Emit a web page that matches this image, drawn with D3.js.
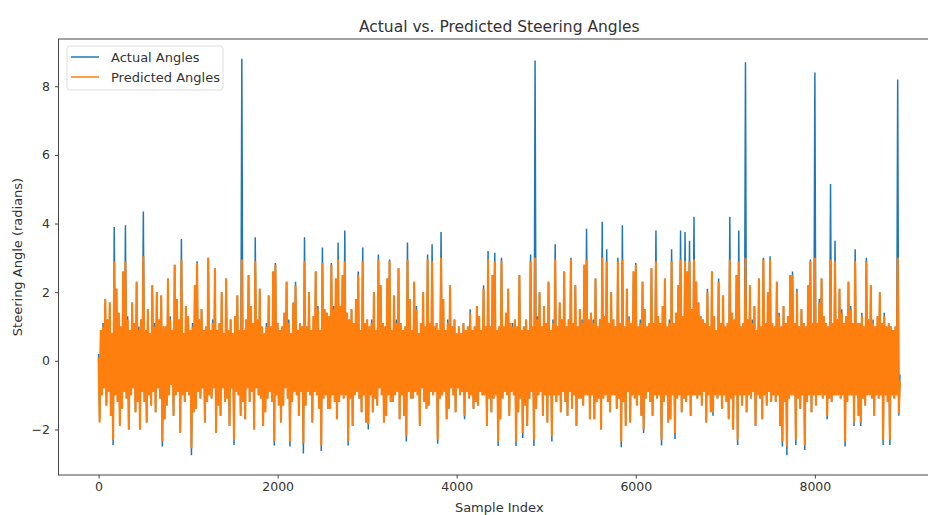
<!DOCTYPE html>
<html>
<head>
<meta charset="utf-8">
<script src="https://cdn.jsdelivr.net/npm/d3@7"></script>
<style>
  body { margin: 0; background: #fff; }
  text { font-family: "DejaVu Sans", sans-serif; fill: #333; }
</style>
</head>
<body>
<div id="chart"></div>
<script>
// one plotted sample every 12.5 indices (0 .. 8950)
const sampleStep = 12.5;

const actualAngles = [
  0.2,-1.7,0.9,-1.0,1.1,-0.8,1.8,-1.3,1.2,-0.9,1.7,-1.6,0.8,-2.45,3.9,-1.0,2.1,-1.2,1.4,-1.9,
  1.0,-1.4,2.6,-0.9,3.95,-1.1,1.3,-2.0,0.9,-1.0,1.7,-0.8,1.1,-1.5,2.3,-1.2,1.0,-2.0,1.2,-0.9,
  4.35,-1.2,0.9,-1.8,1.5,-1.0,0.8,-1.3,2.2,-0.9,1.1,-1.5,2.0,-0.8,1.2,-1.1,1.9,-2.5,1.0,-1.7,
  1.0,-1.3,2.4,-1.0,1.3,-0.7,0.9,-1.6,2.8,-1.0,1.8,-0.9,1.2,-2.1,3.55,-1.0,0.8,-1.2,1.6,-0.9,
  1.3,-1.0,0.9,-2.75,1.1,-1.5,2.2,-1.4,2.9,-0.9,1.2,-1.1,1.5,-0.8,0.9,-1.8,1.0,-1.2,3.0,-1.0,
  0.9,-1.1,1.2,-0.8,2.7,-2.1,0.9,-1.3,1.1,-1.6,2.0,-0.8,0.8,-1.2,2.4,-1.1,0.9,-1.9,1.2,-0.8,
  0.8,-2.45,1.3,-0.9,1.9,-1.0,0.9,-1.6,8.8,-1.2,0.9,-1.7,1.2,-0.8,2.5,-1.2,1.6,-0.9,1.1,-2.0,
  3.6,-0.8,1.2,-1.0,2.1,-1.1,1.0,-1.9,0.8,-1.5,1.1,-1.1,1.9,-0.9,1.0,-1.2,2.6,-2.47,2.85,-1.0,
  1.1,-1.3,0.9,-1.8,1.0,-1.3,1.4,-0.8,2.3,-1.1,1.2,-2.5,0.8,-1.2,1.7,-0.9,2.3,-1.0,0.9,-1.6,
  1.1,-0.9,1.0,-2.7,3.6,-1.3,1.0,-0.9,2.0,-1.0,0.9,-1.8,1.3,-0.9,2.6,-1.0,1.6,-1.4,0.9,-2.63,
  3.3,-1.1,1.5,-1.0,1.4,-1.4,1.3,-1.4,2.85,-1.0,1.6,-1.2,2.4,-1.7,3.45,-1.2,1.6,-1.0,2.5,-1.1,
  3.8,-1.0,1.4,-2.47,1.2,-1.1,1.5,-1.9,1.1,-1.0,1.8,-0.9,2.6,-1.1,0.9,-1.5,3.3,-1.0,1.1,-1.8,
  1.2,-2.0,1.0,-1.0,1.2,-1.5,2.0,-1.1,0.9,-1.3,3.1,-0.8,2.2,-1.0,1.1,-1.8,1.0,-1.6,2.4,-1.0,
  2.95,-1.2,0.9,-1.2,1.9,-1.0,1.2,-0.9,2.7,-1.7,1.1,-1.0,0.9,-1.6,1.0,-2.35,3.45,-0.9,1.8,-1.1,
  0.9,-1.1,2.3,-0.9,1.6,-1.0,0.8,-1.9,1.1,-0.8,2.0,-1.2,1.0,-1.4,3.1,-1.3,1.1,-0.9,3.4,-1.0,
  1.0,-0.9,1.1,-2.42,0.9,-1.1,3.75,-1.0,1.8,-0.9,0.9,-1.7,1.2,-1.4,2.2,-0.8,1.0,-1.0,1.2,-1.5,
  0.8,-0.8,1.0,-1.0,0.8,-0.9,1.1,-1.7,0.9,-0.9,1.0,-1.1,1.5,-1.0,0.9,-1.4,1.0,-1.2,1.6,-1.3,
  1.3,-0.9,0.9,-1.0,2.2,-1.0,1.0,-1.9,3.2,-1.1,1.0,-1.5,2.5,-1.1,3.15,-1.0,0.9,-2.48,1.0,-1.7,
  3.0,-1.1,1.0,-0.9,1.4,-1.0,2.1,-1.6,1.1,-0.9,1.1,-1.0,1.2,-2.48,1.0,-1.5,2.5,-1.1,0.9,-2.25,
  1.0,-1.3,1.2,-1.9,0.9,-1.1,3.1,-0.9,1.0,-2.48,8.75,-1.4,1.3,-1.0,2.0,-0.9,1.0,-1.6,1.6,-1.0,
  1.1,-1.8,2.3,-1.0,0.9,-2.35,1.2,-1.0,3.4,-1.2,1.0,-1.0,1.7,-1.5,1.2,-0.9,2.6,-1.2,1.0,-1.6,
  1.2,-0.9,3.0,-1.4,1.1,-1.0,2.2,-1.9,1.0,-1.1,1.5,-1.1,1.2,-1.3,2.8,-1.0,3.85,-1.0,1.2,-1.7,
  1.4,-1.0,1.2,-1.7,2.4,-1.2,1.0,-1.1,1.2,-2.0,4.05,-1.1,1.3,-1.0,3.25,-1.2,1.1,-1.5,2.0,-1.0,
  1.2,-1.0,1.0,-1.4,3.0,-1.1,1.1,-2.52,3.95,-1.2,1.0,-1.9,2.1,-0.9,1.3,-1.8,1.1,-1.0,2.6,-1.1,
  2.85,-1.3,1.0,-1.0,1.2,-1.6,2.3,-2.1,1.5,-1.1,1.0,-0.9,1.1,-1.2,2.7,-1.6,1.1,-1.0,3.8,-1.1,
  1.3,-1.0,1.1,-2.47,1.6,-1.2,2.4,-1.0,1.0,-1.8,1.2,-1.7,3.25,-1.0,1.1,-2.28,1.4,-1.1,2.2,-1.0,
  3.8,-1.5,1.3,-1.1,3.75,-1.2,2.6,-1.0,3.5,-1.6,1.5,-1.0,4.2,-1.0,2.3,-1.1,1.7,-1.0,1.3,-1.3,
  1.2,-0.9,1.1,-1.8,2.1,-1.0,1.0,-1.5,2.6,-1.6,1.3,-1.0,0.9,-1.1,2.4,-1.0,1.1,-1.4,1.9,-1.0,
  1.0,-1.2,1.1,-1.7,4.2,-1.1,1.4,-2.0,1.2,-1.0,2.5,-2.45,3.8,-1.0,1.0,-1.3,1.1,-1.0,8.7,-1.5,
  1.2,-1.0,2.2,-1.1,1.2,-0.9,1.6,-1.9,0.9,-1.0,2.4,-1.1,1.0,-1.7,3.0,-1.0,1.1,-1.3,2.0,-0.9,
  3.05,-1.2,1.1,-1.0,1.0,-1.2,2.3,-1.0,1.4,-1.9,1.0,-2.5,1.6,-1.2,1.1,-2.75,1.3,-1.1,2.5,-1.0,
  2.6,-1.0,1.1,-2.45,2.1,-1.1,1.0,-1.4,1.5,-1.0,1.1,-2.6,1.0,-1.2,2.2,-1.0,2.95,-1.5,1.1,-1.0,
  8.4,-1.3,1.1,-1.0,1.8,-1.0,2.4,-1.1,1.3,-1.0,1.1,-1.7,1.0,-1.1,5.15,-1.2,1.1,-1.0,3.5,-1.0,
  1.2,-1.0,2.1,-1.1,1.5,-1.0,1.1,-2.5,1.3,-1.2,2.3,-1.0,1.6,-1.0,1.1,-1.9,3.25,-1.0,1.1,-1.6,
  1.1,-1.9,1.4,-1.1,1.0,-1.3,3.0,-1.0,1.2,-1.0,2.2,-1.1,1.2,-1.6,1.0,-1.0,1.3,-1.1,2.0,-1.0,
  1.1,-2.45,1.4,-1.0,1.0,-1.2,1.1,-2.45,1.0,-1.0,0.9,-1.1,1.0,-1.0,8.2,-1.6,-0.4
];

const predictedAngles = [
  0.1,-1.8,0.9,-1.0,1.0,-0.8,1.8,-1.3,1.2,-0.9,1.7,-1.6,0.8,-2.3,2.9,-1.0,2.1,-1.2,1.4,-1.9,
  1.0,-1.4,2.6,-0.9,2.9,-1.1,1.2,-2.0,0.9,-1.0,1.7,-0.8,1.1,-1.5,2.3,-1.2,0.9,-2.0,1.2,-0.9,
  3.05,-1.2,0.9,-1.8,1.5,-1.0,0.8,-1.3,2.2,-0.9,1.0,-1.5,2.0,-0.8,1.2,-1.1,1.9,-2.35,1.0,-1.7,
  1.0,-1.3,2.4,-1.0,1.2,-0.7,0.9,-1.6,2.8,-1.0,1.8,-0.9,1.2,-2.1,2.95,-1.0,0.8,-1.2,1.6,-0.9,
  1.3,-1.0,0.9,-2.55,1.0,-1.5,2.2,-1.4,2.85,-0.9,1.2,-1.1,1.5,-0.8,0.9,-1.8,1.0,-1.2,3.0,-1.0,
  0.9,-1.1,1.1,-0.8,2.7,-2.1,0.9,-1.3,1.1,-1.6,2.0,-0.8,0.8,-1.2,2.4,-1.1,0.9,-1.9,1.2,-0.8,
  0.8,-2.3,1.3,-0.9,1.9,-1.0,0.9,-1.6,2.95,-1.2,0.9,-1.7,1.2,-0.8,2.5,-1.2,1.6,-0.9,1.1,-2.0,
  2.9,-0.8,1.2,-1.0,2.1,-1.1,1.0,-1.9,0.8,-1.5,1.0,-1.1,1.9,-0.9,1.0,-1.2,2.6,-2.35,2.8,-1.0,
  1.1,-1.3,0.9,-1.8,1.0,-1.3,1.4,-0.8,2.3,-1.1,1.1,-2.35,0.8,-1.2,1.7,-0.9,2.2,-1.0,0.9,-1.6,
  1.1,-0.9,1.0,-2.4,2.9,-1.3,1.0,-0.9,2.0,-1.0,0.9,-1.8,1.3,-0.9,2.6,-1.0,1.5,-1.4,0.9,-2.45,
  2.85,-1.1,1.5,-1.0,1.4,-1.4,1.3,-1.4,2.8,-1.0,1.5,-1.2,2.4,-1.7,2.95,-1.2,1.6,-1.0,2.5,-1.1,
  2.9,-1.0,1.4,-2.35,1.2,-1.1,1.5,-1.9,1.1,-1.0,1.8,-0.9,2.5,-1.1,0.9,-1.5,2.9,-1.0,1.1,-1.8,
  1.2,-1.85,1.0,-1.0,1.1,-1.5,2.0,-1.1,0.9,-1.3,2.95,-0.8,2.2,-1.0,1.1,-1.8,1.0,-1.6,2.4,-1.0,
  2.9,-1.2,0.9,-1.2,1.9,-1.0,1.1,-0.9,2.7,-1.7,1.1,-1.0,0.9,-1.6,1.0,-2.2,2.95,-0.9,1.8,-1.1,
  0.9,-1.1,2.3,-0.9,1.5,-1.0,0.8,-1.9,1.1,-0.8,2.0,-1.2,1.0,-1.4,2.95,-1.3,1.1,-0.9,2.9,-1.0,
  1.0,-0.9,1.1,-2.3,0.9,-1.1,3.0,-1.0,1.8,-0.9,0.9,-1.7,1.1,-1.4,2.2,-0.8,1.0,-1.0,1.2,-1.5,
  0.8,-0.8,1.0,-1.0,0.8,-0.9,1.1,-1.6,0.9,-0.9,1.0,-1.1,1.4,-1.0,0.9,-1.4,1.0,-1.2,1.6,-1.3,
  1.3,-0.9,0.9,-1.0,2.1,-1.0,1.0,-1.9,2.95,-1.1,1.0,-1.5,2.5,-1.1,2.9,-1.0,0.9,-2.35,1.0,-1.7,
  2.9,-1.1,1.0,-0.9,1.4,-1.0,2.1,-1.6,1.1,-0.9,1.0,-1.0,1.2,-2.35,1.0,-1.5,2.5,-1.1,0.9,-2.1,
  1.0,-1.3,1.2,-1.9,0.9,-1.1,2.9,-0.9,1.0,-2.3,3.0,-1.4,1.2,-1.0,2.0,-0.9,1.0,-1.6,1.6,-1.0,
  1.1,-1.8,2.3,-1.0,0.9,-2.2,1.1,-1.0,2.95,-1.2,1.0,-1.0,1.7,-1.5,1.2,-0.9,2.6,-1.2,1.0,-1.6,
  1.2,-0.9,2.95,-1.4,1.1,-1.0,2.2,-1.9,1.0,-1.1,1.5,-1.1,1.1,-1.3,2.8,-1.0,2.95,-1.0,1.2,-1.7,
  1.4,-1.0,1.1,-1.7,2.4,-1.2,1.0,-1.1,1.2,-2.0,3.0,-1.1,1.3,-1.0,2.9,-1.2,1.1,-1.5,2.0,-1.0,
  1.2,-1.0,1.0,-1.4,2.9,-1.1,1.1,-2.35,2.95,-1.2,1.0,-1.9,2.1,-0.9,1.2,-1.8,1.1,-1.0,2.6,-1.1,
  2.8,-1.3,1.0,-1.0,1.1,-1.6,2.3,-2.0,1.5,-1.1,1.0,-0.9,1.1,-1.2,2.7,-1.6,1.1,-1.0,2.9,-1.1,
  1.3,-1.0,1.1,-2.3,1.6,-1.2,2.4,-1.0,1.0,-1.8,1.1,-1.7,2.9,-1.0,1.1,-2.1,1.4,-1.1,2.2,-1.0,
  2.95,-1.5,1.3,-1.1,2.9,-1.2,2.6,-1.0,2.9,-1.6,1.5,-1.0,2.95,-1.0,2.3,-1.1,1.7,-1.0,1.3,-1.3,
  1.2,-0.9,1.1,-1.8,2.0,-1.0,1.0,-1.5,2.6,-1.5,1.3,-1.0,0.9,-1.1,2.3,-1.0,1.1,-1.4,1.9,-1.0,
  1.0,-1.2,1.1,-1.7,2.95,-1.1,1.4,-2.0,1.2,-1.0,2.5,-2.3,2.9,-1.0,1.0,-1.3,1.1,-1.0,3.0,-1.5,
  1.2,-1.0,2.2,-1.1,1.1,-0.9,1.6,-1.9,0.9,-1.0,2.4,-1.1,1.0,-1.7,2.95,-1.0,1.1,-1.3,2.0,-0.9,
  2.95,-1.2,1.1,-1.0,1.0,-1.2,2.3,-1.0,1.3,-1.9,1.0,-2.35,1.6,-1.2,1.1,-2.5,1.3,-1.1,2.5,-1.0,
  2.5,-1.0,1.1,-2.3,2.0,-1.1,1.0,-1.4,1.5,-1.0,1.1,-2.45,1.0,-1.2,2.2,-1.0,2.9,-1.5,1.1,-1.0,
  3.0,-1.3,1.1,-1.0,1.7,-1.0,2.4,-1.1,1.3,-1.0,1.1,-1.6,1.0,-1.1,2.95,-1.2,1.1,-1.0,2.9,-1.0,
  1.2,-1.0,2.1,-1.1,1.4,-1.0,1.1,-2.35,1.3,-1.2,2.3,-1.0,1.5,-1.0,1.1,-1.8,2.9,-1.0,1.1,-1.6,
  1.1,-1.8,1.3,-1.1,1.0,-1.3,2.9,-1.0,1.2,-1.0,2.2,-1.1,1.1,-1.6,1.0,-1.0,1.3,-1.1,2.0,-1.0,
  1.1,-2.3,1.3,-1.0,1.0,-1.2,1.1,-2.3,1.0,-1.0,0.9,-1.1,1.0,-1.0,3.0,-1.55,-0.6
];

const xTicks = [0, 2000, 4000, 6000, 8000];
const yTicks = [-2, 0, 2, 4, 6, 8];
const seriesNames = ["Actual Angles", "Predicted Angles"];
const seriesColors = ["#1f77b4", "#ff7f0e"];
// the orange trace is drawn a bit wider so the dense band stays solid at this sample rate
const seriesWidths = [1.5, 2.1];

const config = {
    width: 928,
    height: 515,
    margin: { top: 39, left: 58.5 },
    plotWidth: 881.5,
    plotHeight: 436
};

const indexes = actualAngles.map((d, i) => i * sampleStep);

// matplotlib-like 5% padding on both axes
const xMin = d3.min(indexes), xMax = d3.max(indexes);
const xPad = (xMax - xMin) * 0.05;
const allValues = actualAngles.concat(predictedAngles);
const yMin = d3.min(allValues), yMax = d3.max(allValues);
const yPad = (yMax - yMin) * 0.05;

const xScale = d3.scaleLinear()
    .domain([xMin - xPad, xMax + xPad])
    .range([0, config.plotWidth]);

const yScale = d3.scaleLinear()
    .domain([yMin - yPad, yMax + yPad])
    .range([config.plotHeight, 0]);

const svg = d3.select("#chart")
    .append("svg")
    .attr("width", config.width)
    .attr("height", config.height);

svg.append("rect")
    .attr("width", config.width)
    .attr("height", config.height)
    .attr("fill", "#fff");

const g = svg.append("g")
    .attr("transform", `translate(${config.margin.left},${config.margin.top})`);

g.append("clipPath")
    .attr("id", "plot-clip")
    .append("rect")
    .attr("width", config.plotWidth)
    .attr("height", config.plotHeight);

const line = d3.line()
    .x(d => xScale(d.index))
    .y(d => yScale(d.value));

[actualAngles, predictedAngles].forEach((values, s) => {
    const points = values.map((v, i) => ({ index: indexes[i], value: v }));
    g.append("path")
        .datum(points)
        .attr("clip-path", "url(#plot-clip)")
        .attr("d", line)
        .style("fill", "none")
        .style("stroke", seriesColors[s])
        .style("stroke-width", seriesWidths[s] + "px")
        .style("stroke-linejoin", "miter")
        .style("stroke-miterlimit", 1);
});

// axes
const xAxis = g.append("g")
    .attr("transform", `translate(0,${config.plotHeight})`)
    .call(d3.axisBottom(xScale).tickValues(xTicks).tickSize(3.5).tickPadding(4).tickFormat(d3.format("d")));

const yAxis = g.append("g")
    .call(d3.axisLeft(yScale).tickValues(yTicks).tickSize(3.5).tickPadding(5).tickFormat(d => d < 0 ? "\u2212" + Math.abs(d) : d));

[xAxis, yAxis].forEach(ax => {
    ax.select(".domain").remove();
    ax.selectAll(".tick line").attr("stroke", "#444");
    ax.selectAll(".tick text")
        .style("font-family", "DejaVu Sans, sans-serif")
        .style("font-size", "12.5px")
        .attr("fill", "#333");
});

// frame
g.append("rect")
    .attr("width", config.plotWidth)
    .attr("height", config.plotHeight)
    .attr("fill", "none")
    .attr("stroke", "#444")
    .attr("stroke-width", 1);

// title and axis labels
svg.append("text")
    .attr("x", config.margin.left + config.plotWidth / 2)
    .attr("y", 31.5)
    .attr("text-anchor", "middle")
    .style("font-size", "15.5px")
    .text("Actual vs. Predicted Steering Angles");

svg.append("text")
    .attr("x", config.margin.left + config.plotWidth / 2)
    .attr("y", 512)
    .attr("text-anchor", "middle")
    .style("font-size", "13px")
    .text("Sample Index");

svg.append("text")
    .attr("transform", `translate(22,${config.margin.top + config.plotHeight / 2})rotate(-90)`)
    .attr("text-anchor", "middle")
    .style("font-size", "13px")
    .text("Steering Angle (radians)");

// legend
const legend = g.append("g").attr("transform", "translate(8.5,7)");

legend.append("rect")
    .attr("width", 156)
    .attr("height", 44)
    .attr("rx", 3)
    .attr("fill", "#fff")
    .attr("fill-opacity", 0.8)
    .attr("stroke", "#ddd");

seriesNames.forEach((name, i) => {
    const row = legend.append("g").attr("transform", `translate(4,${11 + i * 20})`);
    row.append("line")
        .attr("x1", 0).attr("x2", 28)
        .attr("stroke", seriesColors[i])
        .attr("stroke-width", 1.5);
    row.append("text")
        .attr("x", 40)
        .attr("dy", "0.35em")
        .style("font-size", "13px")
        .text(name);
});
</script>
</body>
</html>
